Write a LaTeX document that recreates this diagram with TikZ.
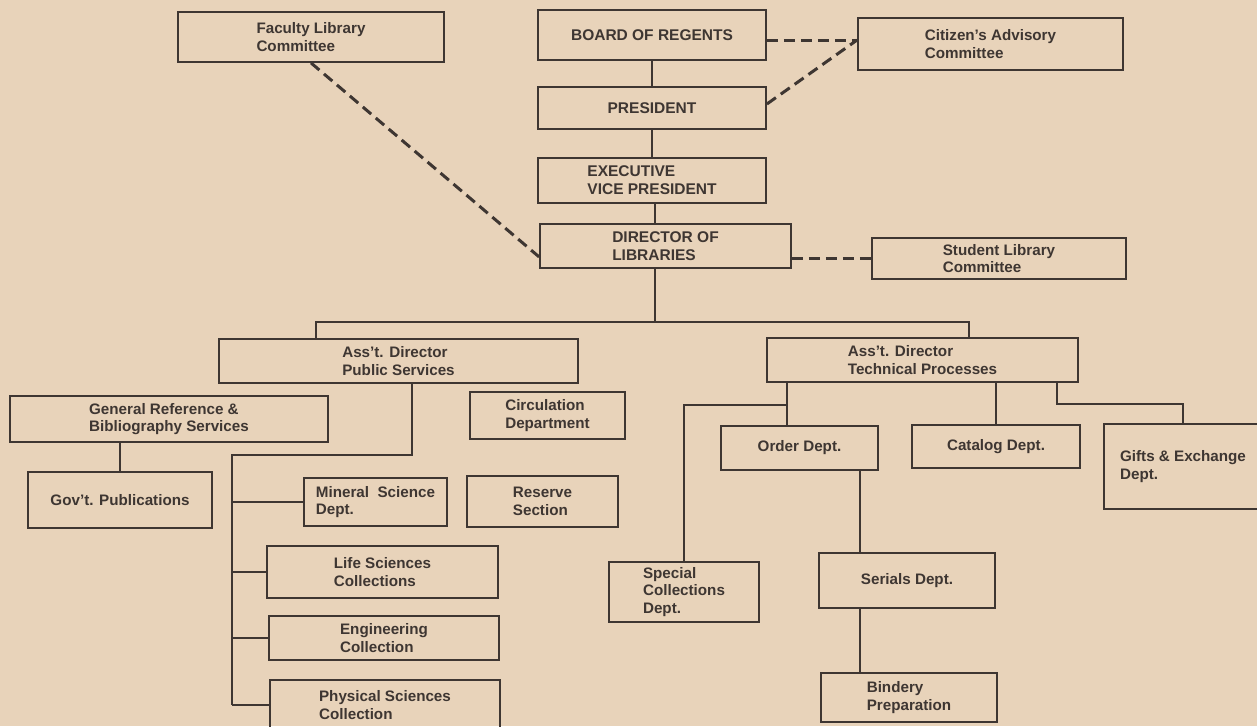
\documentclass[tikz,border=0pt]{standalone}
\usepackage{fontspec}
\setmainfont{Liberation Sans}
\definecolor{paper}{RGB}{232,211,186}
\definecolor{ink}{RGB}{62,54,50}

\tikzstyle{office}=[draw=ink,line width=1.8pt,inner sep=2pt,align=left,text=ink,font=\bfseries\fontsize{15.2}{17.5}\selectfont]
\tikzstyle{head}=[office,font=\bfseries\fontsize{15.5}{18}\selectfont]
\tikzstyle{link} = [draw=ink,line width=1.8pt]
\tikzstyle{advise} = [draw=ink,line width=3pt,dash pattern=on 11pt off 6pt]

\begin{document}
\begin{tikzpicture}[x=1pt,y=-1pt]
		\useasboundingbox (0,0) rectangle (1257,726);
		\fill[paper] (0,0) rectangle (1257,726);
		\clip (0,0) rectangle (1257,726);
		% Top of the chart
		\node[office,minimum width=266pt,minimum height=50pt] (faculty) at (311,37) {Faculty Library\\Committee};
		\node[head,minimum width=228pt,minimum height=50pt] (board) at (652,35) {BOARD OF REGENTS};
		\node[office,minimum width=265pt,minimum height=52pt] (citizen) at (990.5,44) {Citizen's Advisory\\Committee};
		\node[head,minimum width=228pt,minimum height=42pt] (president) at (652,108) {PRESIDENT};
		\node[head,minimum width=228pt,minimum height=45pt] (evp) at (652,180.5) {EXECUTIVE\\VICE PRESIDENT};
		\node[head,minimum width=251pt,minimum height=44pt] (director) at (665.5,246) {DIRECTOR OF\\LIBRARIES};
		\node[office,minimum width=254pt,minimum height=41pt] (student) at (999,258.5) {Student Library\\Committee};
		% Public services
		\node[office,minimum width=359pt,minimum height=44pt] (aps) at (398.5,361) {Ass't. Director\\Public Services};
		\node[office,minimum width=318pt,minimum height=46pt] (genref) at (169,419) {General Reference \&\\Bibliography Services};
		\node[office,minimum width=155pt,minimum height=47pt] (circ) at (547.5,415.5) {Circulation\\Department};
		\node[office,minimum width=184pt,minimum height=56pt] (govt) at (120,500) {Gov't. Publications};
		\node[office,minimum width=143pt,minimum height=48pt] (mineral) at (375.5,502) {Mineral\ \ Science\\Dept.};
		\node[office,minimum width=151pt,minimum height=51pt] (reserve) at (542.5,501.5) {Reserve\\Section};
		\node[office,minimum width=231pt,minimum height=52pt] (life) at (382.5,572) {Life Sciences\\Collections};
		\node[office,minimum width=230pt,minimum height=44pt] (eng) at (384,638) {Engineering\\Collection};
		\node[office,minimum width=230pt,minimum height=50pt] (phys) at (385,705) {Physical Sciences\\Collection};
		% Technical processes
		\node[office,minimum width=311pt,minimum height=44pt] (atp) at (922.5,360) {Ass't. Director\\Technical Processes};
		\node[office,minimum width=157pt,minimum height=44pt] (order) at (799.5,448) {Order Dept.};
		\node[office,minimum width=168pt,minimum height=43pt] (catalog) at (996,446.5) {Catalog Dept.};
		\node[office,minimum width=158pt,minimum height=85pt] (gifts) at (1183,466.5) {Gifts \& Exchange\\Dept.};
		\node[office,minimum width=150pt,minimum height=60pt] (spec) at (684,592) {Special\\Collections\\Dept.};
		\node[office,minimum width=176pt,minimum height=55pt] (serials) at (907,580.5) {Serials Dept.};
		\node[office,minimum width=176pt,minimum height=49pt] (bindery) at (909,697.5) {Bindery\\Preparation};
		% Junctions of the lines
		\coordinate (bus) at (655,322);
		\coordinate (busL) at (316,322);
		\coordinate (busR) at (969,322);
		\coordinate (psA) at (412,455);
		\coordinate (psB) at (232,455);
		\coordinate (tpA) at (787,405);
		\coordinate (tpG) at (1057,404);
		\coordinate (ordline) at (860,500);
		% Line of authority
		\foreach \source/ \dest in {board/president, president/evp}
			\path[link] (\source) -- (\dest);
		\path[link] (evp.south -| bus) -- (director.north -| bus);
		\path[link] (director.south -| bus) -- (bus);
		\path[link] (aps.north -| busL) -- (busL) -- (busR) -- (atp.north -| busR);
		\path[link] (govt.north) -- (govt.north |- genref.south);
		\path[link] (aps.south -| psA) -- (psA) -- (psB) -- (phys.west -| psB);
		\foreach \dest in {mineral, life, eng, phys}
			\path[link] (\dest.west -| psB) -- (\dest.west);
		\path[link] (atp.south -| tpA) -- (order.north -| tpA);
		\path[link] (tpA) -| (spec.north);
		\path[link] (catalog.north) -- (catalog.north |- atp.south);
		\path[link] (atp.south -| tpG) -- (tpG) -| (gifts.north);
		\path[link] (order.south -| ordline) -- (serials.north -| ordline);
		\path[link] (serials.south -| ordline) -- (bindery.north -| ordline);
		% Advisory committees
		\path[advise] (faculty.south) -- ([yshift=12pt]director.south west);
		\path[advise] ([yshift=-5pt]board.east) -- ([yshift=4pt]citizen.west);
		\path[advise] ([yshift=4pt]president.east) -- ([yshift=4pt]citizen.west);
		\path[advise] (student.west -| director.east) -- (student.west);
\end{tikzpicture}
\end{document}
